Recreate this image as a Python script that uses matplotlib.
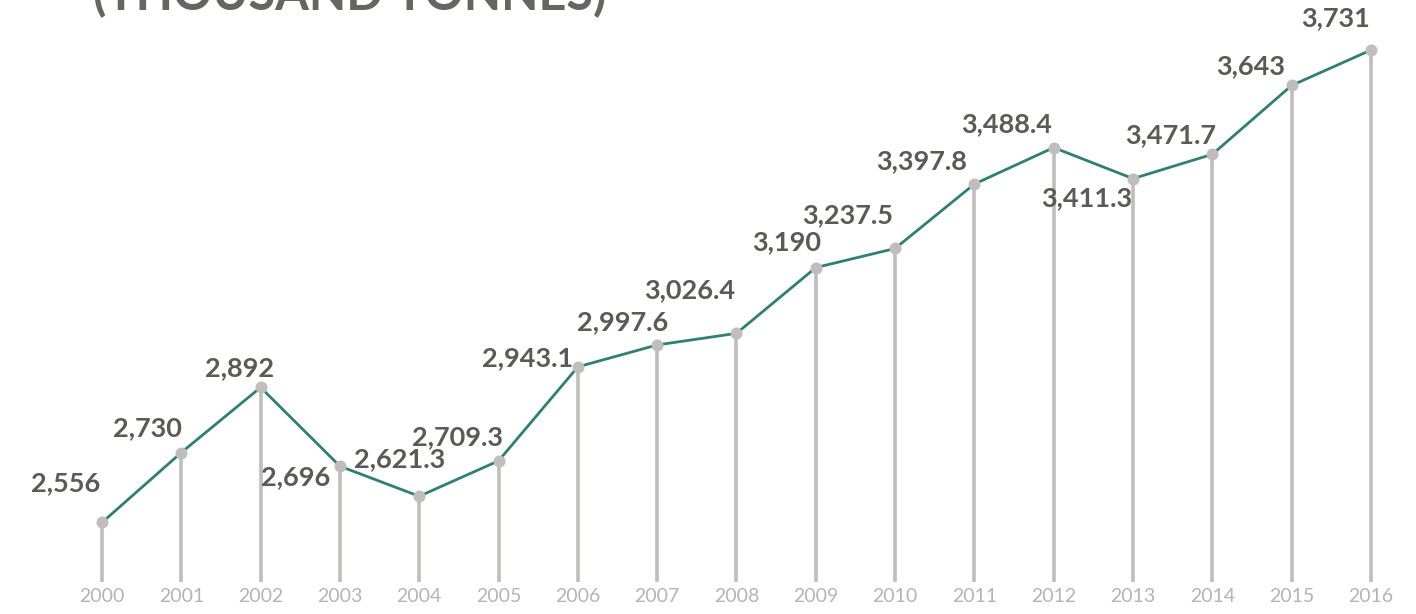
import matplotlib
matplotlib.use("Agg")
import matplotlib.pyplot as plt

years = list(range(2000, 2017))
values = [2556, 2730, 2892, 2696, 2621.3, 2709.3, 2943.1, 2997.6, 3026.4,
          3190, 3237.5, 3397.8, 3488.4, 3411.3, 3471.7, 3643, 3731]
labels = ["2,556", "2,730", "2,892", "2,696", "2,621.3", "2,709.3", "2,943.1",
          "2,997.6", "3,026.4", "3,190", "3,237.5", "3,397.8", "3,488.4",
          "3,411.3", "3,471.7", "3,643", "3,731"]
# label offsets in pixels (dx, dy) from each point
offsets = [(-36, 39), (-34, 24), (-21, 19), (-44, -11), (-20, 37), (-41, 24),
           (-50, 9), (-35, 23), (-47, 43), (-29, 25), (-47, 33), (-53, 23),
           (-47, 23), (-46, -20), (-42, 19), (-41, 19), (-35, 32)]

line_col = "#2f7f73"
gray = "#bfbebc"
text_col = "#5b5a57"

fig = plt.figure(figsize=(14.16, 6.14), dpi=100)
ax = fig.add_axes([0, 32 / 614, 1, 582 / 614])
ybot, ytop = 2408, 3855.5
ax.set_xlim(1998.714, 2016.568)
ax.set_ylim(ybot, ytop)

ax.vlines(years, ybot, values, color=gray, lw=2.6, zorder=1)
ax.plot(years, values, color=line_col, lw=2.0, zorder=2)
ax.scatter(years, values, s=75, color=gray, zorder=3, linewidths=0)

for x, v, t, (dx, dy) in zip(years, values, labels, offsets):
    ax.annotate(t, (x, v), xytext=(dx, dy), textcoords="offset pixels",
                ha="center", va="center", fontsize=19.5, fontweight="bold",
                color=text_col, family="Lato")

ax.set_xticks(years)
ax.set_xticklabels([str(y) for y in years], fontsize=14, color="#b5b4b2",
                   family="Lato")
ax.tick_params(axis="x", length=0, pad=4)
ax.set_yticks([])
for s in ax.spines.values():
    s.set_visible(False)

fig.text(93 / 1416, 1 - 10 / 614, "(THOUSAND TONNES)", fontsize=35,
         fontweight="bold", color="#666661", family="Lato",
         ha="left", va="baseline")

fig.savefig("out.png", dpi=100)
